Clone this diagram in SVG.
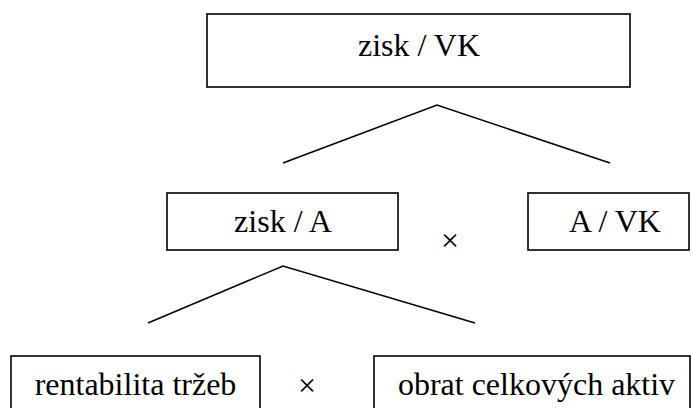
<svg xmlns="http://www.w3.org/2000/svg" width="692" height="408" viewBox="0 0 692 408" font-family="'Liberation Serif', 'Times New Roman', Times, serif">
  <style>
    .box { fill: #fff; stroke: #000; stroke-width: 1.6; }
    .lbl { font-family: 'Liberation Serif', 'Times New Roman', Times, serif; font-size: 32px; fill: #000; text-anchor: middle; }
    .link { fill: none; stroke: #000; stroke-width: 1.6; }
  </style>
  <rect width="692" height="408" fill="#fff"/>

  <!-- connectors -->
  <g id="connectors">
    <polyline class="link" points="283,163 437,105 610,163"/>
    <polyline class="link" points="148,323 283,266 475,323"/>
  </g>

  <!-- level 1 -->
  <g id="node-zisk-vk">
    <rect class="box" x="207" y="14" width="423" height="73"/>
    <text class="lbl" x="419" y="56">zisk / VK</text>
  </g>

  <!-- level 2 -->
  <g id="node-zisk-a">
    <rect class="box" x="167" y="193" width="231" height="57"/>
    <text class="lbl" x="283" y="232">zisk / A</text>
  </g>
  <g id="op-1">
    <text class="lbl" x="450" y="251">×</text>
  </g>
  <g id="node-a-vk">
    <rect class="box" x="528" y="193" width="161" height="57"/>
    <text class="lbl" x="615" y="232">A / VK</text>
  </g>

  <!-- level 3 -->
  <g id="node-rentabilita">
    <rect class="box" x="11" y="356" width="249" height="60"/>
    <text class="lbl" x="135.5" y="395">rentabilita tržeb</text>
  </g>
  <g id="op-2">
    <text class="lbl" x="307" y="396">×</text>
  </g>
  <g id="node-obrat">
    <rect class="box" x="374" y="356" width="316" height="60"/>
    <text class="lbl" x="536.5" y="395">obrat celkových aktiv</text>
  </g>
</svg>
